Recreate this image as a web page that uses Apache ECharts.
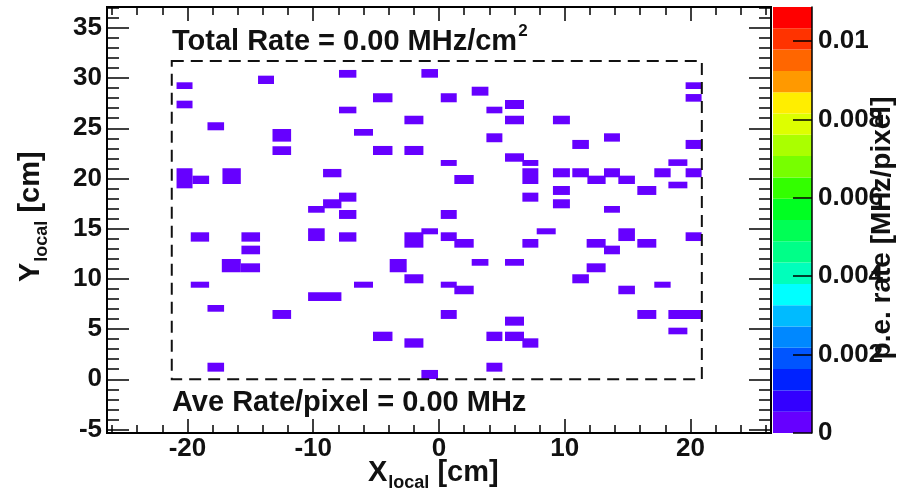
<!DOCTYPE html>
<html><head><meta charset="utf-8">
<script src="https://cdn.jsdelivr.net/npm/echarts@6/dist/echarts.min.js"></script>
<style>html,body{margin:0;padding:0;background:#fff}#c{width:906px;height:492px}</style>
</head><body><div id="c"></div>
<script>
// ---- data: fired pixels (bin edges in cm) and their p.e. rate (MHz/pixel) ----
const pixX0 = [-20.87,-20.87,-18.41,-14.39,-13.24,-13.24,-20.87,-19.60,-17.22,-9.22,-7.95,-7.95,-10.41,-9.22,-7.95,-7.95,
 -1.40,-5.25,0.14,2.60,3.77,5.25,5.25,-2.75,-6.76,3.77,-5.25,-2.75,0.14,5.25,6.63,1.22,6.63,6.63,0.14,
 19.61,19.61,9.06,10.60,13.12,19.61,18.24,9.06,10.60,11.80,13.12,14.26,17.12,19.61,15.77,18.24,9.06,9.06,13.12,
 -19.74,-15.71,-15.71,-17.27,-15.76,-19.74,-18.41,-13.24,-10.41,-10.41,-7.95,-18.41,
 -2.75,-1.40,0.14,1.22,6.63,-3.92,2.60,5.25,-2.75,-6.76,0.14,1.22,0.14,5.25,-5.25,-2.75,3.77,5.25,6.63,3.77,-1.40,
 7.77,11.74,13.12,14.26,15.77,19.61,11.74,10.60,14.26,17.12,15.77,18.24,18.24];
const pixX1 = [-19.60,-19.60,-17.09,-13.12,-11.76,-11.76,-19.60,-18.28,-15.76,-7.76,-6.57,-6.57,-9.09,-7.76,-6.57,-6.57,
 -0.08,-3.70,1.41,3.93,5.04,6.76,6.76,-1.24,-5.25,5.04,-3.70,-1.24,1.41,6.76,7.90,2.76,7.90,7.90,1.41,
 20.88,20.88,10.41,11.92,14.39,20.88,19.75,10.41,11.92,13.25,14.39,15.58,18.42,20.88,17.28,19.75,10.41,10.41,14.39,
 -18.28,-14.23,-14.23,-15.76,-14.23,-18.28,-17.09,-11.76,-7.76,-9.09,-6.57,-17.09,
 -1.24,-0.08,1.41,2.76,7.90,-2.57,3.93,6.76,-1.24,-5.25,1.41,2.76,1.41,6.76,-3.70,-1.24,5.04,6.76,7.90,5.04,-0.08,
 9.28,13.25,14.39,15.58,17.28,20.88,13.25,11.92,15.58,18.42,17.28,20.88,19.75];
const pixY0 = [28.91,26.99,24.80,29.41,23.67,22.34,19.02,19.45,19.45,20.12,30.04,26.49,16.59,17.03,17.69,15.97,
 30.04,27.59,27.59,28.25,26.49,26.92,25.40,25.40,24.26,23.61,22.34,22.34,21.25,21.67,21.25,19.45,19.45,17.69,15.97,
 28.91,27.65,25.40,22.94,23.67,22.94,21.25,20.12,20.12,19.45,20.12,19.45,20.12,20.12,18.36,19.02,18.36,17.03,16.59,
 13.71,13.71,12.45,10.66,10.66,9.12,6.73,6.01,7.80,13.77,13.71,0.76,
 13.11,14.44,13.77,13.11,13.11,10.66,11.31,11.31,9.56,9.12,9.12,8.47,6.01,5.34,3.81,3.15,3.81,3.81,3.15,0.76,0.03,
 14.44,13.11,12.45,13.77,13.11,13.77,10.66,9.56,8.47,9.12,6.01,6.01,4.48];
const pixY1 = [29.58,27.75,25.60,30.24,24.93,23.21,21.02,20.28,21.02,20.95,30.81,27.15,17.26,17.93,18.59,16.86,
 30.90,28.49,28.49,29.14,27.15,27.82,26.25,26.25,24.93,24.50,23.24,23.24,21.84,22.51,21.84,20.35,21.02,18.59,16.86,
 29.58,28.41,26.25,23.84,24.50,23.84,21.91,21.02,21.02,20.28,21.02,20.28,21.02,21.02,19.25,19.68,19.25,17.93,17.26,
 14.64,14.64,13.31,11.98,11.55,9.72,7.40,6.90,8.67,15.04,14.64,1.65,
 14.64,15.04,14.64,13.97,13.97,11.98,11.98,11.98,10.46,9.72,9.72,9.32,6.90,6.24,4.74,4.08,4.74,4.74,4.08,1.65,0.93,
 15.04,13.97,13.31,15.04,13.97,14.64,11.55,10.46,9.32,9.72,6.90,6.90,5.14];
const pixRate = [0.0003,0.0003,0.0003,0.0003,0.0003,0.0003,0.0003,0.0003,0.0003,0.0003,0.0003,0.0003,0.0003,0.0003,0.0003,0.0003,
 0.0003,0.0003,0.0003,0.0003,0.0003,0.0003,0.0003,0.0003,0.0003,0.0003,0.0003,0.0003,0.0003,0.0003,0.0003,0.0003,0.0003,0.0003,0.0003,
 0.0003,0.0003,0.0003,0.0003,0.0003,0.0003,0.0003,0.0003,0.0003,0.0003,0.0003,0.0003,0.0003,0.0003,0.0003,0.0003,0.0003,0.0003,0.0003,
 0.0003,0.0003,0.0003,0.0003,0.0003,0.0003,0.0003,0.0003,0.0003,0.0003,0.0003,0.0003,
 0.0003,0.0003,0.0003,0.0003,0.0003,0.0003,0.0003,0.0003,0.0003,0.0003,0.0003,0.0003,0.0003,0.0003,0.0003,0.0003,0.0003,0.0003,0.0003,0.0003,0.0003,
 0.0003,0.0003,0.0003,0.0003,0.0003,0.0003,0.0003,0.0003,0.0003,0.0003,0.0003,0.0003,0.0003];

// sensitive-area outline (cm)
const boxX = [-21.25, 20.9];
const boxY = [0, 31.7];

// axes
const xRange = [-26.4, 26.4];
const yRange = [-5.35, 37.08];
const zMax = 0.01087;
const xLabelTicks = [-20, -10, 0, 10, 20];
const yLabelTicks = [-5, 0, 5, 10, 15, 20, 25, 30, 35];
const zLabelTicks = [0, 0.002, 0.004, 0.006, 0.008, 0.01];

const totalRateText = 'Total Rate = 0.00 MHz/cm';
const aveRateText = 'Ave Rate/pixel = 0.00 MHz';

// colour palette (bottom -> top of the colour bar)
const palette = ['#6600ff','#3300ff','#0022ff','#0055ff','#0088ff','#00bbff','#00ffff','#00ffbb','#00ff88','#00ff55',
                 '#00ff22','#33ff00','#77ff00','#aaff00','#ddff00','#ffee00','#ff9900','#ff6600','#ff3300','#ff0000'];

// ---- build ----
const xMinor = []; for (let v = -26; v <= 26; v += 2) if (v % 10 !== 0) xMinor.push(v);
const yMinor = []; for (let v = -5; v <= 37; v += 1) if (v % 5 !== 0) yMinor.push(v);
const pixData = pixX0.map((x0, i) => [x0, pixX1[i], pixY0[i], pixY1[i], pixRate[i]]);
const bandData = palette.map((c, i) => [i * zMax / palette.length, (i + 1) * zMax / palette.length, i]);
function rateColor(r) { return palette[Math.min(palette.length - 1, Math.floor(r / zMax * palette.length))]; }

const FONT = '"Liberation Sans", Arial, sans-serif';
const TXT = '#111';
const ctx = document.createElement('canvas').getContext('2d');
function tw(t, size) { ctx.font = 'bold ' + size + 'px ' + FONT; return ctx.measureText(t).width; }
const lbl = { fontFamily: FONT, fontWeight: 'bold', fontSize: 26, color: TXT };
const tickStyle = { color: '#000', width: 1.5 };

function xAx(pos, ticks, len, labels) {
  return { gridIndex: 0, type: 'value', position: pos, min: xRange[0], max: xRange[1],
    axisLine: { show: false, onZero: false }, splitLine: { show: false },
    axisTick: { show: true, inside: true, length: len, customValues: ticks, lineStyle: tickStyle },
    axisLabel: labels ? Object.assign({ show: true, customValues: labels, margin: 3 }, lbl) : { show: false } };
}
function yAx(pos, ticks, len, labels) {
  return { gridIndex: 0, type: 'value', position: pos, min: yRange[0], max: yRange[1],
    axisLine: { show: false, onZero: false }, splitLine: { show: false },
    axisTick: { show: true, inside: true, length: len, customValues: ticks, lineStyle: tickStyle },
    axisLabel: labels ? Object.assign({ show: true, customValues: labels, margin: 5 }, lbl) : { show: false } };
}

const chart = echarts.init(document.getElementById('c'), null, { renderer: 'canvas' });

const sF = 29, subF = 18, tF = 29;
const wTotal = tw(totalRateText, sF);
const wX = tw('X', tF), wLoc = tw('local', subF), wY = tw('Y', tF);
function mid(size) { return 0.3465 * size; }
function T(text, x, y, size, align) {
  return { type: 'text', x: x, y: y, style: { text: text, x: 0, y: 0, font: 'bold ' + size + 'px ' + FONT, fill: TXT,
    textAlign: align || 'left', align: align || 'left', textVerticalAlign: 'middle', verticalAlign: 'middle' } };
}

const option = {
  animation: false,
  backgroundColor: '#fff',
  grid: [
    { left: 107, top: 7, width: 664, height: 426, show: true, borderColor: '#000', borderWidth: 2, backgroundColor: 'transparent', containLabel: false },
    { left: 773, top: 7, width: 39, height: 426, show: false, containLabel: false }
  ],
  xAxis: [
    xAx('bottom', xLabelTicks, 14, xLabelTicks),
    xAx('bottom', xMinor, 8, null),
    xAx('top', xLabelTicks, 14, null),
    xAx('top', xMinor, 8, null),
    { gridIndex: 1, type: 'value', min: 0, max: 1, show: false, axisLine: { onZero: false } }
  ],
  yAxis: [
    yAx('left', yLabelTicks, 22, yLabelTicks),
    yAx('left', yMinor, 12, null),
    yAx('right', yLabelTicks, 22, null),
    yAx('right', yMinor, 12, null),
    { gridIndex: 1, type: 'value', position: 'right', min: 0, max: zMax, z: 10,
      axisLine: { show: true, onZero: false, lineStyle: { color: '#000', width: 1.5 } }, splitLine: { show: false },
      axisTick: { show: true, inside: true, length: 19, customValues: zLabelTicks, lineStyle: tickStyle },
      axisLabel: Object.assign({ show: true, customValues: zLabelTicks, margin: 6,
        formatter: v => (Math.abs(v) < 1e-12 ? '0' : String(+(+v).toFixed(4))) }, lbl) }
  ],
  series: [
    {
      type: 'custom', xAxisIndex: 0, yAxisIndex: 0, clip: true, z: 2,
      encode: { x: [0, 1], y: [2, 3] },
      data: pixData,
      renderItem: function (params, api) {
        const a = api.coord([api.value(0), api.value(3)]);
        const b = api.coord([api.value(1), api.value(2)]);
        return { type: 'rect', shape: { x: a[0], y: a[1], width: b[0] - a[0], height: b[1] - a[1] },
          style: { fill: rateColor(api.value(4)) } };
      }
    },
    {
      type: 'custom', xAxisIndex: 0, yAxisIndex: 0, clip: false, z: 3,
      encode: { x: [0, 1], y: [2, 3] },
      data: [[boxX[0], boxX[1], boxY[0], boxY[1]]],
      renderItem: function (params, api) {
        const a = api.coord([api.value(0), api.value(3)]);
        const b = api.coord([api.value(1), api.value(2)]);
        return { type: 'rect', shape: { x: a[0], y: a[1], width: b[0] - a[0], height: b[1] - a[1] },
          style: { fill: 'none', stroke: '#111', lineWidth: 2, lineDash: [12, 7] } };
      }
    },
    {
      type: 'custom', xAxisIndex: 4, yAxisIndex: 4, clip: false, z: 1,
      encode: { y: [0, 1] },
      data: bandData,
      renderItem: function (params, api) {
        const a = api.coord([0, api.value(1)]);
        const b = api.coord([1, api.value(0)]);
        return { type: 'rect', shape: { x: a[0], y: a[1], width: b[0] - a[0], height: b[1] - a[1] },
          style: { fill: palette[api.value(2)] } };
      }
    }
  ],
  graphic: [
    T(totalRateText, 172, 42, sF),
    T('2', 172 + wTotal + 1, 31, 17),
    T(aveRateText, 172, 403, sF),
    // X axis title
    T('X', 368, 483 - mid(tF), tF),
    T('local', 368 + wX + 1, 489 - mid(subF), subF),
    T(' [cm]', 368 + wX + 1 + wLoc, 483 - mid(tF), tF),
    // Y axis title (rotated)
    { type: 'group', x: 41, y: 282, rotation: Math.PI / 2, children: [
      T('Y', 0, -mid(tF), tF),
      T('local', wY + 1, 7 - mid(subF), subF),
      T(' [cm]', wY + 1 + wLoc, -mid(tF), tF)
    ] },
    // colour bar title (rotated)
    { type: 'group', x: 892, y: 228, rotation: Math.PI / 2, children: [
      T('p.e. rate [MHz/pixel]', 0, -mid(28), 28, 'center')
    ] }
  ]
};
chart.setOption(option);
</script>
</body></html>
